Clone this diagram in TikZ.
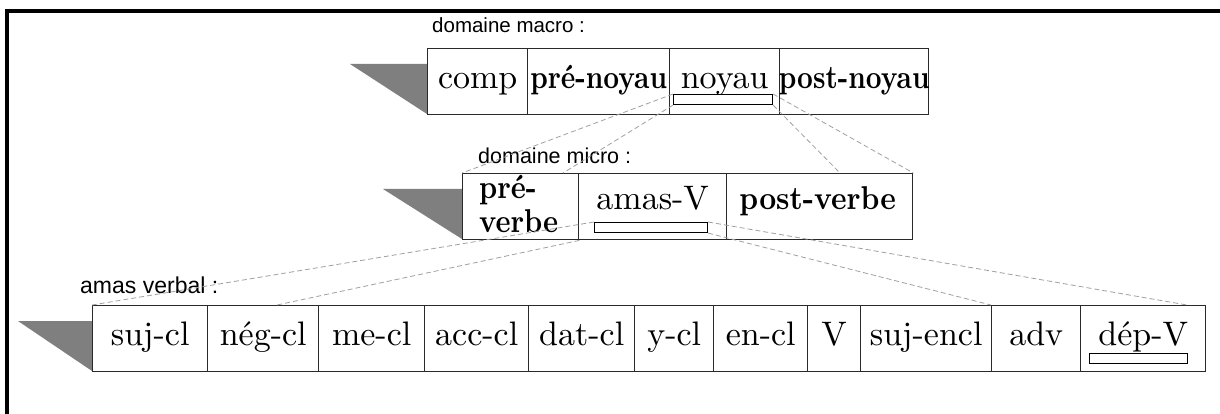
\documentclass[tikz,border=0pt]{standalone}
\usepackage{fontspec}
\newfontfamily\labelfont{Liberation Sans}
\definecolor{shadegray}{HTML}{7F7F7F}
\definecolor{linegray}{HTML}{A0A0A0}
\definecolor{edgegray}{HTML}{2A2A2A}
\newcommand{\rt}[1]{\scalebox{3.4}{\fontsize{10}{12}\selectfont #1}}
\newcommand{\bt}[2][2.75]{\scalebox{#1}[3.3]{\fontsize{10}{12}\selectfont\bfseries #2}}
\begin{document}
\begin{tikzpicture}[x=1pt,y=-1pt,
  cell/.style={draw=edgegray, line width=1.4pt, inner sep=0pt, anchor=north west, minimum height=66pt},
  tri/.style={fill=shadegray, draw=none},
  zoomline/.style={draw=linegray, line width=0.8pt, dash pattern=on 5pt off 3pt},
  txt/.style={anchor=base, inner sep=0pt},
  lab/.style={font=\labelfont, anchor=base west, inner sep=0pt},
  markbox/.style={draw=black, line width=1.1pt, fill=white, inner sep=0pt, anchor=north west, minimum height=10pt},
  frameline/.style={draw=black, line width=4pt}
]
\useasboundingbox (0,0) rectangle (1220,414);
% frame
\draw[frameline] (1220,11) -- (7,11) -- (7,414);

% ---------- macro domain ----------
\node[lab, font=\labelfont\fontsize{20.5}{21}\selectfont] (labmacro) at (432,33) {domaine macro :};
\fill[tri] (350,64) -- (427,64) -- (427,114) -- cycle;
\foreach \n/\a/\b in {comp/427/527, prenoyau/527/669, noyau/669/779, postnoyau/779/928}
  \node[cell, minimum width={\b-\a}] (\n) at (\a,48) {};
\coordinate (base1) at (0,89);
\node[txt] (tcomp) at (comp.center |- base1) {\rt{comp}};
\node[txt] (tprenoyau) at (prenoyau.center |- base1) {\bt{pré-noyau}};
\node[txt] (tnoyau) at (noyau.center |- base1) {\rt{noyau}};
\node[txt] (tpostnoyau) at (postnoyau.center |- base1) {\bt{post-noyau}};
\node[markbox, minimum width=99pt] (mnoyau) at (673,94) {};

% ---------- micro domain ----------
\node[lab, font=\labelfont\fontsize{21.5}{22}\selectfont] (labmicro) at (478,164) {domaine micro :};
\fill[tri] (383,189) -- (462,189) -- (462,239) -- cycle;
\foreach \n/\a/\b in {preverbe/462/578, amasV/578/726, postverbe/726/912}
  \node[cell, minimum width={\b-\a}] (\n) at (\a,173) {};
\coordinate (base2) at (0,210);
\node[txt, anchor=base west] (tpre) at (479,198) {\bt[2.85]{pré-}};
\node[txt, anchor=base west] (tverbe) at (479,232) {\bt[2.85]{verbe}};
\node[txt] (tamasV) at (amasV.center |- base2) {\rt{amas-V}};
\node[txt] (tpostverbe) at ([xshift=-2pt]postverbe.center |- base2) {\bt[2.95]{post-verbe}};
\node[markbox, minimum width=113pt] (mamasV) at (594,222) {};

% ---------- amas verbal ----------
\node[lab, font=\labelfont\fontsize{23}{23}\selectfont] (labamas) at (80,293) {amas verbal :};
\fill[tri] (18,321) -- (92,321) -- (92,371) -- cycle;
\foreach \n/\a/\b in {sujcl/92/207, negcl/207/318, mecl/318/424, acccl/424/528, datcl/528/634, ycl/634/713, encl/713/807, V/807/860, sujencl/860/991, adv/991/1080, depV/1080/1205}
  \node[cell, minimum width={\b-\a}] (\n) at (\a,305) {};
\coordinate (base3) at (0,345);
\node[txt] (tsujcl) at (sujcl.center |- base3) {\rt{suj-cl}};
\node[txt] (tnegcl) at (negcl.center |- base3) {\rt{nég-cl}};
\node[txt] (tmecl) at (mecl.center |- base3) {\rt{me-cl}};
\node[txt] (tacccl) at (acccl.center |- base3) {\rt{acc-cl}};
\node[txt] (tdatcl) at (datcl.center |- base3) {\rt{dat-cl}};
\node[txt] (tycl) at (ycl.center |- base3) {\rt{y-cl}};
\node[txt] (tencl) at (encl.center |- base3) {\rt{en-cl}};
\node[txt] (tV) at (V.center |- base3) {\rt{V}};
\node[txt] (tsujencl) at (sujencl.center |- base3) {\rt{suj-encl}};
\node[txt] (tadv) at (adv.center |- base3) {\rt{adv}};
\node[txt] (tdepV) at (depV.center |- base3) {\rt{dép-V}};
\node[markbox, minimum width=98pt] (mdepV) at (1089,353) {};

% ---------- zoom connectors ----------
\coordinate (m1) at (563,173);
\coordinate (m2) at (840,173);
\draw[zoomline] (mnoyau.north west) -- (preverbe.north west);
\draw[zoomline] (mnoyau.south west) -- (m1);
\draw[zoomline] (mnoyau.north east) -- (postverbe.north east);
\draw[zoomline] (mnoyau.south east) -- (m2);
\coordinate (a1) at (277,305);
\coordinate (a2) at (1187,305);
\draw[zoomline] (mamasV.north west) -- (sujcl.north west);
\draw[zoomline] (preverbe.south east) -- (a1);
\draw[zoomline] (mamasV.north east) -- (a2);
\draw[zoomline] (mamasV.south east) -- (adv.north west);
\end{tikzpicture}
\end{document}
